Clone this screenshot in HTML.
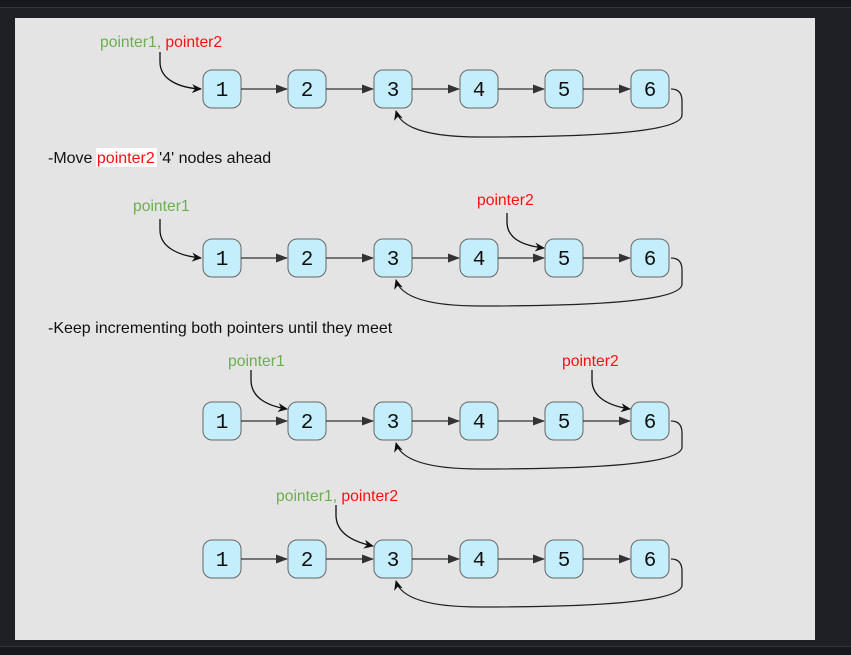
<!DOCTYPE html>
<html><head><meta charset="utf-8"><style>
html,body{margin:0;padding:0;background:#1f2026;}
body{width:851px;height:655px;overflow:hidden;position:relative;}
</style></head><body>
<svg width="851" height="655" viewBox="0 0 851 655" xmlns="http://www.w3.org/2000/svg" style="position:absolute;left:0;top:0">
<defs>
<marker id="a" markerWidth="12" markerHeight="9" refX="11" refY="4.5" orient="auto" markerUnits="userSpaceOnUse"><path d="M0,0 L12,4.5 L0,9 Z" fill="#333"/></marker>
<marker id="b" markerWidth="10" markerHeight="9" refX="9" refY="4.5" orient="auto" markerUnits="userSpaceOnUse"><path d="M0,0 L10,4.5 L0,9 L3,4.5 Z" fill="#111"/></marker>
<g id="row">
<g fill="#c4eefc" stroke="#666" stroke-width="1">
<rect x="203" y="-19" width="38" height="38" rx="9"/>
<rect x="288" y="-19" width="38" height="38" rx="9"/>
<rect x="374" y="-19" width="38" height="38" rx="9"/>
<rect x="460" y="-19" width="38" height="38" rx="9"/>
<rect x="545" y="-19" width="38" height="38" rx="9"/>
<rect x="631" y="-19" width="38" height="38" rx="9"/>
</g>
<g stroke="#333" stroke-width="1.2" marker-end="url(#a)">
<line x1="241" y1="0" x2="287" y2="0"/>
<line x1="326" y1="0" x2="373" y2="0"/>
<line x1="412" y1="0" x2="459" y2="0"/>
<line x1="498" y1="0" x2="544" y2="0"/>
<line x1="583" y1="0" x2="630" y2="0"/>
</g>
<path d="M671,0 Q682,0 682,12 L682,26 C682,46 560,48 480,48 C420,48 400,36 396,22" fill="none" stroke="#222" stroke-width="1.3" marker-end="url(#b)"/>
<g font-family="Liberation Mono, monospace" font-size="21" text-anchor="middle" fill="#111">
<text x="222" y="7">1</text><text x="307" y="7">2</text><text x="393" y="7">3</text>
<text x="479" y="7">4</text><text x="564" y="7">5</text><text x="650" y="7">6</text>
</g>
</g>
</defs>
<rect x="0" y="0" width="851" height="7" fill="#17181d"/>
<rect x="0" y="7" width="851" height="1" fill="#34353b"/>
<rect x="0" y="646" width="851" height="1" fill="#34353b"/>
<rect x="0" y="647" width="851" height="8" fill="#17181d"/>
<rect x="15" y="18" width="800" height="622" fill="#e4e4e4"/>
<use href="#row" x="0" y="89"/>
<use href="#row" x="0" y="258"/>
<use href="#row" x="0" y="421"/>
<use href="#row" x="0" y="559"/>
<g font-family="Liberation Sans, sans-serif" font-size="15.7">
<text x="100" y="47"><tspan fill="#6daf4f">pointer1, </tspan><tspan fill="#ff1010">pointer2</tspan></text>
<text x="133" y="211" fill="#6daf4f">pointer1</text>
<text x="477" y="205" fill="#ff1010">pointer2</text>
<text x="228" y="366" fill="#6daf4f">pointer1</text>
<text x="562" y="366" fill="#ff1010">pointer2</text>
<text x="276" y="501"><tspan fill="#6daf4f">pointer1, </tspan><tspan fill="#ff1010">pointer2</tspan></text>
</g>
<g font-family="Liberation Sans, sans-serif" font-size="16" fill="#111">
<rect x="96" y="148" width="61" height="19" fill="#fff"/>
<text x="48" y="163">-Move <tspan fill="#ff1010">pointer2</tspan> '4' nodes ahead</text>
<text x="48" y="333">-Keep incrementing both pointers until they meet</text>
</g>
<g fill="none" stroke="#111" stroke-width="1.3" marker-end="url(#b)">
<path d="M160,52 L160,62 C160,80 180,88 201,89"/>
<path d="M160,219 L160,230 C160,248 180,256 201,258"/>
<path d="M507,213 L507,222 C507,240 525,246 544,248"/>
<path d="M251,370 L251,380 C251,398 268,406 287,409"/>
<path d="M592,370 L592,380 C592,398 610,406 630,409"/>
<path d="M336,505 L336,515 C336,534 354,542 373,546"/>
</g>
</svg>
</body></html>
